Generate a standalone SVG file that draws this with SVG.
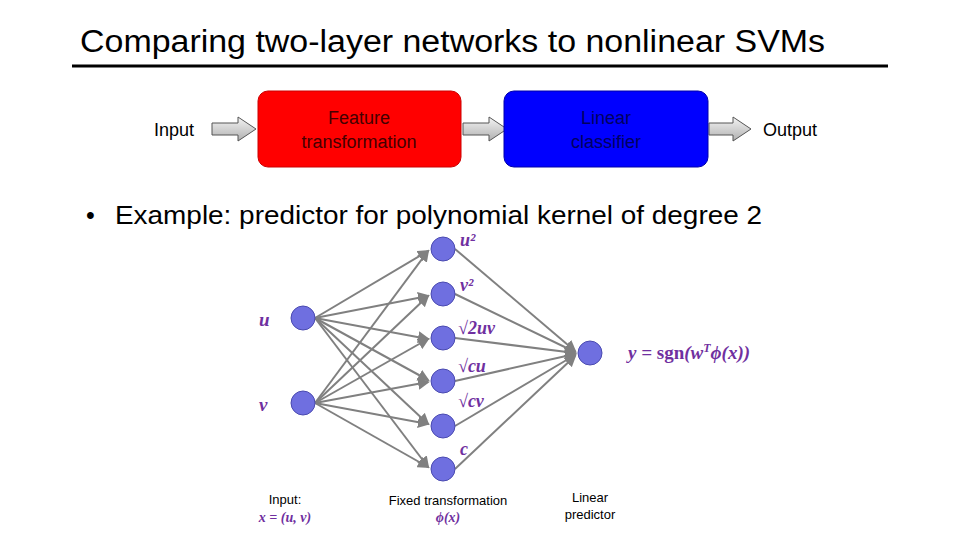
<svg xmlns="http://www.w3.org/2000/svg" width="960" height="540" viewBox="0 0 960 540">
<style>
.t{font-family:"Liberation Sans",Arial,sans-serif;fill:#000}
.m{font-family:"Liberation Serif","DejaVu Serif",serif;font-style:italic;font-weight:bold;fill:#7030A0}
.n{fill:#6f6fe0;stroke:#4a4ab0;stroke-width:1}
.c line{stroke:#808080;stroke-width:2;marker-end:url(#a)}
.ba{fill:url(#g);stroke:#555;stroke-width:1}
</style>
<defs>
<marker id="a" markerWidth="6" markerHeight="6" refX="5" refY="3" orient="auto" markerUnits="strokeWidth"><path d="M0,0 L6,3 L0,6 z" fill="#808080"/></marker>
<linearGradient id="g" x1="0" y1="0" x2="0" y2="1"><stop offset="0" stop-color="#f4f4f4"/><stop offset="1" stop-color="#b0b0b0"/></linearGradient>
</defs>
<rect width="960" height="540" fill="#fff"/>
<text class="t" x="80" y="52" font-size="31" textLength="745" lengthAdjust="spacingAndGlyphs">Comparing two-layer networks to nonlinear SVMs</text>
<line x1="72" y1="66" x2="888" y2="66" stroke="#000" stroke-width="3"/>
<g id="input"><text class="t" x="154" y="136" font-size="18">Input</text></g>
<g id="arrows-top">
<path class="ba" d="M212,123 H238 V117 L256,129 L238,141 V135 H212 Z"/>
<path class="ba" d="M463,123 H489 V117 L507,129 L489,141 V135 H463 Z"/>
<path class="ba" d="M709,123 H733 V117 L751,129 L733,141 V135 H709 Z"/>
</g>
<g id="feature"><rect x="258" y="91" width="203" height="76" rx="10" fill="#ff0000" stroke="#c00" stroke-width="1"/>
<text class="t" x="359" y="124" font-size="18" text-anchor="middle" style="fill:#400">Feature</text>
<text class="t" x="359" y="148" font-size="18" text-anchor="middle" style="fill:#400">transformation</text></g>
<g id="linear"><rect x="504" y="91" width="204" height="76" rx="10" fill="#0000ff" stroke="#00a" stroke-width="1"/>
<text class="t" x="606" y="124" font-size="18" text-anchor="middle" style="fill:#000060">Linear</text>
<text class="t" x="606" y="148" font-size="18" text-anchor="middle" style="fill:#000060">classifier</text></g>
<g id="output"><text class="t" x="763" y="136" font-size="18">Output</text></g>
<text class="t" x="86" y="224" font-size="25">•</text>
<text class="t" x="115" y="224" font-size="25" textLength="647" lengthAdjust="spacingAndGlyphs">Example: predictor for polynomial kernel of degree 2</text>
<g class="c" id="connectors">
<line x1="315" y1="318" x2="428" y2="251"/><line x1="315" y1="318" x2="428" y2="296"/><line x1="315" y1="318" x2="428" y2="339"/><line x1="315" y1="318" x2="428" y2="380"/><line x1="315" y1="318" x2="428" y2="424"/><line x1="315" y1="318" x2="428" y2="467"/>
<line x1="315" y1="403" x2="428" y2="251"/><line x1="315" y1="403" x2="428" y2="296"/><line x1="315" y1="403" x2="428" y2="339"/><line x1="315" y1="403" x2="428" y2="382"/><line x1="315" y1="403" x2="428" y2="424"/><line x1="315" y1="403" x2="428" y2="467"/>
<line x1="455" y1="249" x2="575" y2="351"/><line x1="455" y1="294" x2="575" y2="352"/><line x1="455" y1="338" x2="575" y2="353"/><line x1="455" y1="381" x2="575" y2="354"/><line x1="455" y1="426" x2="575" y2="355"/><line x1="455" y1="469" x2="575" y2="356"/>
</g>
<g id="u"><circle class="n" cx="303" cy="318" r="12"/><text class="m" x="259" y="326" font-size="19">u</text></g>
<g id="v"><circle class="n" cx="303" cy="403" r="12"/><text class="m" x="259" y="411" font-size="19">v</text></g>
<g id="h1"><circle class="n" cx="443" cy="249" r="12"/><text class="m" x="460" y="246" font-size="18">u²</text></g>
<g id="h2"><circle class="n" cx="443" cy="294" r="12"/><text class="m" x="460" y="291" font-size="18">v²</text></g>
<g id="h3"><circle class="n" cx="443" cy="338" r="12"/><text class="m" x="458" y="334" font-size="18">√2uv</text></g>
<g id="h4"><circle class="n" cx="443" cy="381" r="12"/><text class="m" x="458" y="372" font-size="18">√cu</text></g>
<g id="h5"><circle class="n" cx="443" cy="426" r="12"/><text class="m" x="458" y="407" font-size="18">√cv</text></g>
<g id="h6"><circle class="n" cx="443" cy="469" r="12"/><text class="m" x="460" y="455" font-size="18">c</text></g>
<g id="out"><circle class="n" cx="590" cy="353" r="12"/><text class="m" x="628" y="359" font-size="19">y = <tspan font-style="normal">sgn</tspan>(w<tspan font-size="12" dy="-7">T</tspan><tspan dy="7">ϕ(x))</tspan></text></g>
<g id="labels">
<text class="t" x="285" y="504" font-size="13" text-anchor="middle">Input:</text>
<text class="m" x="285" y="522" font-size="14" text-anchor="middle" font-weight="normal">x = (u, v)</text>
<text class="t" x="448" y="505" font-size="13" text-anchor="middle">Fixed transformation</text>
<text class="m" x="448" y="522" font-size="14" text-anchor="middle" font-weight="normal">ϕ(x)</text>
<text class="t" x="590" y="502" font-size="13" text-anchor="middle">Linear</text>
<text class="t" x="590" y="519" font-size="13" text-anchor="middle">predictor</text>
</g>
</svg>
